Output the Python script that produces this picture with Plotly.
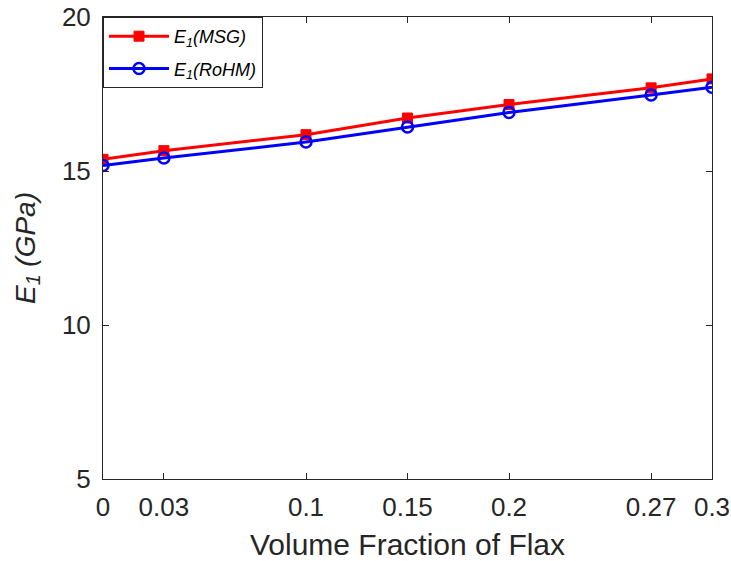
import plotly.graph_objects as go

# Volume fraction of flax and longitudinal modulus E1 (GPa)
volume_fraction = [0, 0.03, 0.1, 0.15, 0.2, 0.27, 0.3]
e1_msg = [15.38, 15.66, 16.18, 16.72, 17.16, 17.70, 17.99]
e1_rohm = [15.18, 15.42, 15.94, 16.43, 16.90, 17.47, 17.72]

x_tick_vals = [0, 0.03, 0.1, 0.15, 0.2, 0.27, 0.3]
x_tick_text = ["0", "0.03", "0.1", "0.15", "0.2", "0.27", "0.3"]
y_tick_vals = [5, 10, 15, 20]

axis_color = "#262626"
font_family = "Liberation Sans, Arial, sans-serif"

fig = go.Figure()
fig.add_trace(go.Scatter(
    x=volume_fraction, y=e1_msg, mode="lines+markers",
    name="<i>E<sub>1</sub>(MSG)</i>", legendgroup="msg",
    line=dict(color="#ff0000", width=3),
    marker=dict(symbol="square", size=10, color="#ff0000",
                line=dict(color="#ff0000", width=1)),
))
fig.add_trace(go.Scatter(
    x=volume_fraction, y=e1_rohm, mode="lines+markers",
    name="<i>E<sub>1</sub>(RoHM)</i>", legendgroup="rohm",
    line=dict(color="#0000ff", width=3),
    marker=dict(symbol="circle-open", size=11, color="#0000ff",
                line=dict(color="#0000ff", width=2.5)),
))

axis_common = dict(
    showline=True, linecolor=axis_color, linewidth=1, mirror="ticks",
    ticks="inside", ticklen=6, tickwidth=1, tickcolor=axis_color,
    showgrid=False, zeroline=False, automargin=False,
    tickfont=dict(family=font_family, size=26, color=axis_color),
)

fig.update_layout(
    width=731, height=561,
    margin=dict(l=103, r=19, t=17, b=82),
    paper_bgcolor="white", plot_bgcolor="white",
    font=dict(family=font_family, color=axis_color),
    xaxis=dict(
        range=[0, 0.3], tickmode="array", tickvals=x_tick_vals,
        ticktext=x_tick_text, ticklabelstandoff=5,
        title=dict(text="Volume Fraction of Flax",
                   font=dict(family=font_family, size=30, color=axis_color),
                   standoff=14),
        **axis_common,
    ),
    yaxis=dict(
        range=[5, 20], tickmode="array", tickvals=y_tick_vals,
        ticklabelstandoff=6,
        title=dict(text="<i>E<sub>1</sub> (GPa)</i>",
                   font=dict(family=font_family, size=28, color=axis_color),
                   standoff=18),
        **axis_common,
    ),
    legend=dict(
        x=0, y=1, xanchor="left", yanchor="top",
        bgcolor="white", bordercolor=axis_color, borderwidth=1,
        font=dict(family=font_family, size=18, color="black"),
        tracegroupgap=6, itemwidth=60,
    ),
)

fig.write_html("out.html")
